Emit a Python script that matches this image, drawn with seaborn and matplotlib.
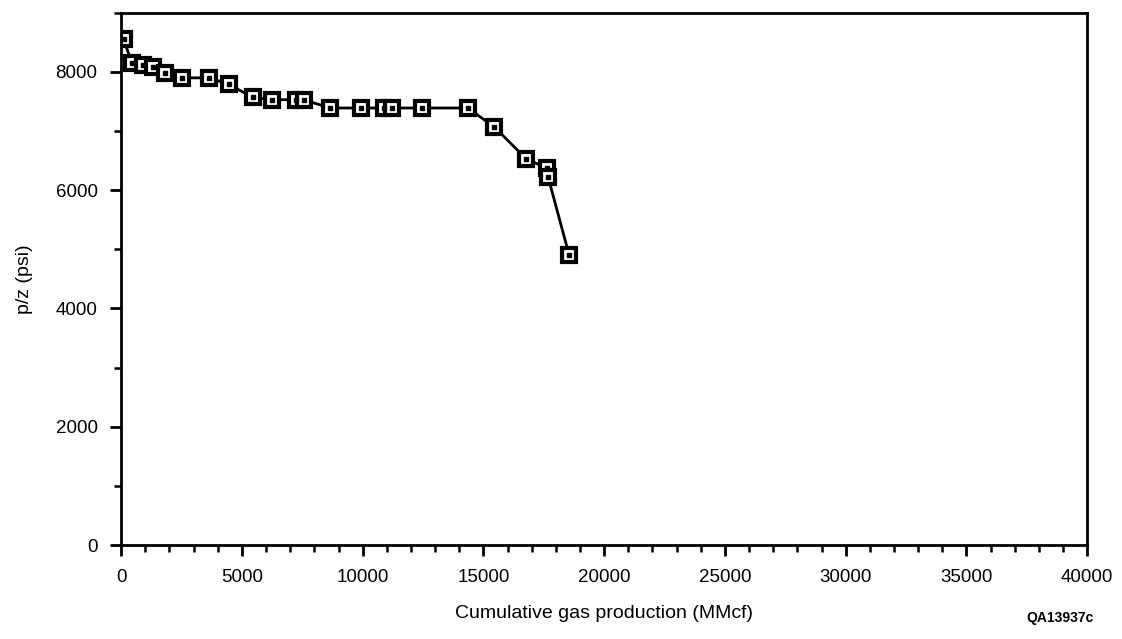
import pandas as pd
import matplotlib.pyplot as plt
import seaborn as sns
from matplotlib.ticker import MultipleLocator

# p/z vs cumulative production
cum_gas = [100, 450, 900, 1300, 1800, 2500, 3650, 4450, 5450, 6250,
           7250, 7550, 8650, 9950, 10900, 11200, 12450, 14350, 15450,
           16770, 17640, 17680, 18550]
p_over_z = [8550, 8150, 8120, 8080, 7990, 7900, 7900, 7790, 7570, 7530,
            7530, 7530, 7390, 7390, 7390, 7390, 7390, 7390, 7070,
            6530, 6370, 6220, 4900]

x_ticks = [0, 5000, 10000, 15000, 20000, 25000, 30000, 35000, 40000]
y_ticks = [0, 2000, 4000, 6000, 8000]

sns.set_style("ticks")
plt.rcParams['font.family'] = ['Liberation Sans', 'DejaVu Sans']
plt.rcParams['text.color'] = 'black'
plt.rcParams['axes.labelcolor'] = 'black'
plt.rcParams['xtick.color'] = 'black'
plt.rcParams['ytick.color'] = 'black'
plt.rcParams['axes.edgecolor'] = 'black'

df = pd.DataFrame({'cum': cum_gas, 'pz': p_over_z})

fig = plt.figure(figsize=(11.22, 6.39), dpi=100)
ax = fig.add_axes([0.108, 0.147, 0.861, 0.833])

sns.lineplot(data=df, x='cum', y='pz', ax=ax, color='black', linewidth=2.0,
             marker='s', markersize=9.5, markerfacecolor='white',
             markeredgecolor='black', markeredgewidth=3.0)
# tiny dot in the middle of each square
ax.plot(df['cum'], df['pz'], linestyle='none', marker='s', markersize=2.2,
        color='black')

ax.set_xlim(0, 40000)
ax.set_ylim(0, 9000)
ax.set_xticks(x_ticks)
ax.set_yticks(y_ticks)
ax.xaxis.set_minor_locator(MultipleLocator(1000))
ax.yaxis.set_minor_locator(MultipleLocator(1000))
ax.tick_params(which='major', length=8, width=2.0, labelsize=13.5, pad=9)
ax.tick_params(which='minor', length=5, width=1.8)

for s in ax.spines.values():
    s.set_visible(True)
    s.set_linewidth(2.0)

ax.set_xlabel('Cumulative gas production (MMcf)', fontsize=14, labelpad=14)
ax.set_ylabel('p/z (psi)', fontsize=14, labelpad=16)

fig.text(0.975, 0.022, 'QA13937c', ha='right', va='bottom', fontsize=10,
         fontweight='bold')

fig.savefig('out.png', dpi=100)
